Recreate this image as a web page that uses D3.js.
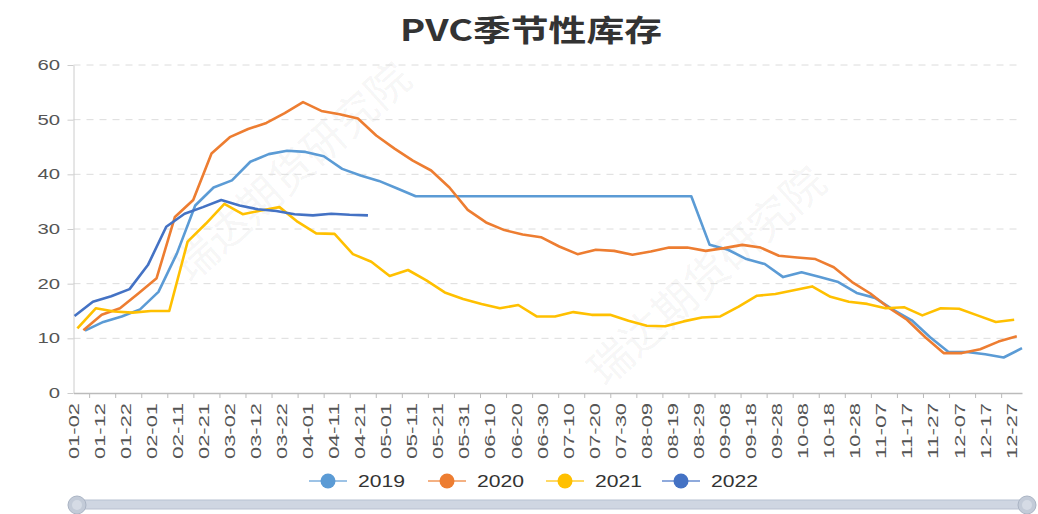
<!DOCTYPE html>
<html>
<head>
<meta charset="utf-8">
<script src="https://cdn.jsdelivr.net/npm/d3@7"></script>
<style>
  body { margin: 0; background: #fff; }
  svg { display: block; font-family: "Liberation Sans", Arial, sans-serif; }
</style>
</head>
<body>
<svg width="1038" height="514"></svg>
<script>
const svg = d3.select('svg');

// data (weekly readings; first and last reading day, counted from 01-02)
const years = ['2019', '2020', '2021', '2022'];
const colors = ['#5B9BD5', '#ED7D31', '#FFC000', '#4472C4'];
const firstDay = [4.4, 3.8, 1.5, 0.4];
const lastDay = [364, 362, 361, 113];

const v2019 = [11.4, 13.0, 14.0, 15.3, 18.5, 25.5, 34.3, 37.6, 38.9, 42.3, 43.7, 44.3, 44.1, 43.3,
  41.0, 39.8, 38.8, 37.4, 36.0, 36.0, 36.0, 36.0, 36.0, 36.0, 36.0, 36.0, 36.0, 36.0, 36.0, 36.0,
  36.0, 36.0, 36.0, 36.0, 27.1, 26.2, 24.5, 23.6, 21.2, 22.1, 21.2, 20.3, 18.3, 17.4, 15.2, 13.3,
  10.2, 7.5, 7.5, 7.1, 6.5, 8.2];
const v2020 = [11.5, 14.3, 15.5, 18.2, 21.0, 32.2, 35.3, 43.8, 46.8, 48.3, 49.4, 51.2, 53.2, 51.6,
  51.0, 50.2, 47.1, 44.7, 42.5, 40.7, 37.6, 33.5, 31.2, 29.8, 29.0, 28.5, 26.8, 25.4, 26.2, 26.0,
  25.3, 25.9, 26.6, 26.6, 26.0, 26.5, 27.1, 26.6, 25.1, 24.8, 24.5, 23.0, 20.3, 18.2, 15.6, 13.4,
  10.2, 7.3, 7.3, 8.0, 9.4, 10.4];
const v2021 = [11.8, 15.5, 14.9, 14.7, 15.0, 15.0, 27.7, 31.0, 34.6, 32.7, 33.4, 34.0, 31.3, 29.2,
  29.1, 25.4, 24.0, 21.4, 22.5, 20.6, 18.4, 17.2, 16.3, 15.5, 16.1, 14.0, 14.0, 14.8, 14.3, 14.3,
  13.2, 12.3, 12.2, 13.1, 13.8, 14.0, 15.8, 17.8, 18.1, 18.8, 19.5, 17.6, 16.7, 16.3, 15.5, 15.7,
  14.2, 15.5, 15.4, 14.2, 13.0, 13.4];
const v2022 = [14.1, 16.7, 17.7, 19.0, 23.4, 30.4, 32.8, 34.0, 35.3, 34.3, 33.6, 33.3, 32.7, 32.5,
  32.8, 32.6, 32.5];
const values = [v2019, v2020, v2021, v2022];

const yTicks = [0, 10, 20, 30, 40, 50, 60];

// daily axis (leap-year calendar, 01-02 .. 12-31)
const fmt = d3.timeFormat('%m-%d');
const days = d3.range(365).map(i => fmt(new Date(2020, 0, 2 + i)));
const labelIdx = d3.range(0, 365, 10);
const tickIdx = d3.range(6, 365, 10);

const plotLeft = 73.5, plotRight = 1022, plotTop = 65, plotBottom = 393;

const x = d3.scaleLinear().domain([0, days.length - 1]).range([plotLeft, plotRight]);
const y = d3.scaleLinear().domain([0, 60]).range([plotBottom, plotTop]);

// watermark
[[292, 172], [707, 276]].forEach(([cx, cy]) => {
  svg.append('text')
    .attr('transform', `translate(${cx},${cy}) rotate(-42)`)
    .attr('text-anchor', 'middle')
    .attr('dy', '0.35em')
    .attr('font-family', '"Noto Sans CJK SC", sans-serif')
    .attr('font-size', 43)
    .attr('fill', '#000')
    .attr('fill-opacity', 0.055)
    .text('瑞达期货研究院');
});

// title
svg.append('text')
  .attr('x', 531)
  .attr('y', 41)
  .attr('text-anchor', 'middle')
  .attr('font-family', '"Noto Sans CJK SC", sans-serif')
  .attr('font-weight', 'bold')
  .attr('font-size', 30)
  .attr('fill', '#333')
  .attr('textLength', 262)
  .attr('lengthAdjust', 'spacingAndGlyphs')
  .text('PVC季节性库存');

// grid
svg.append('g')
  .selectAll('line')
  .data(yTicks.slice(1))
  .join('line')
  .attr('x1', plotLeft)
  .attr('x2', plotRight)
  .attr('y1', d => y(d))
  .attr('y2', d => y(d))
  .attr('stroke', '#dcdcdc')
  .attr('stroke-dasharray', '7,6');

// y axis
const yAxis = svg.append('g')
  .attr('transform', `translate(${plotLeft},0)`)
  .call(d3.axisLeft(y).tickValues(yTicks).tickSize(6).tickSizeOuter(0).tickFormat(''));
yAxis.select('.domain').attr('stroke', '#ccc');
yAxis.selectAll('.tick line').attr('stroke', '#ccc');

svg.append('g')
  .selectAll('text')
  .data(yTicks)
  .join('text')
  .attr('x', 60)
  .attr('y', d => y(d))
  .attr('dy', '0.36em')
  .attr('text-anchor', 'end')
  .attr('font-size', 14)
  .attr('fill', '#555')
  .attr('textLength', d => String(d).length * 11.3)
  .attr('lengthAdjust', 'spacingAndGlyphs')
  .text(d => d);

// x axis
const xAxis = svg.append('g')
  .attr('transform', `translate(0,${plotBottom})`)
  .call(d3.axisBottom(x).tickValues(tickIdx).tickSize(5).tickSizeOuter(0).tickFormat(''));
xAxis.select('.domain').attr('stroke', '#bbb').attr('stroke-width', 1.5);
xAxis.selectAll('.tick line').attr('stroke', '#bbb');

svg.append('g')
  .selectAll('text')
  .data(labelIdx)
  .join('text')
  .attr('transform', d => `translate(${x(d)},403) rotate(-90)`)
  .attr('text-anchor', 'end')
  .attr('dy', '0.36em')
  .attr('font-size', 14)
  .attr('fill', '#555')
  .attr('textLength', 56)
  .attr('lengthAdjust', 'spacingAndGlyphs')
  .text(d => days[d]);

// lines
const line = d3.line()
  .x(d => x(d.day))
  .y(d => y(d.v));

years.forEach((yr, k) => {
  const vals = values[k];
  const dayOf = d3.scaleLinear().domain([0, vals.length - 1]).range([firstDay[k], lastDay[k]]);
  const pts = vals.map((v, i) => ({ day: dayOf(i), v }));
  svg.append('path')
    .datum(pts)
    .attr('d', line)
    .attr('fill', 'none')
    .attr('stroke', colors[k])
    .attr('stroke-width', 2.6)
    .attr('stroke-linejoin', 'round');
});

// legend
const legendX = [328, 447, 565, 681];
const legend = svg.append('g')
  .selectAll('g')
  .data(years)
  .join('g')
  .attr('transform', (d, i) => `translate(${legendX[i]},481)`);

legend.append('line')
  .attr('x1', -19)
  .attr('x2', 19)
  .attr('stroke', (d, i) => colors[i])
  .attr('stroke-opacity', 0.6)
  .attr('stroke-width', 2);

legend.append('circle')
  .attr('r', 7.5)
  .attr('fill', (d, i) => colors[i]);

legend.append('text')
  .attr('x', 30)
  .attr('dy', '0.36em')
  .attr('font-size', 16)
  .attr('fill', '#333')
  .attr('textLength', 47)
  .attr('lengthAdjust', 'spacingAndGlyphs')
  .text(d => d);

// data zoom slider
const dz = svg.append('g');
dz.append('rect')
  .attr('x', 77)
  .attr('y', 500)
  .attr('width', 950)
  .attr('height', 9)
  .attr('fill', '#cfd6e2')
  .attr('stroke', '#b8c1d1');
[77, 1027].forEach(cx => {
  dz.append('circle')
    .attr('cx', cx)
    .attr('cy', 505)
    .attr('r', 9)
    .attr('fill', '#c3cbd8')
    .attr('stroke', '#aab4c4');
  dz.append('circle')
    .attr('cx', cx)
    .attr('cy', 505)
    .attr('r', 5)
    .attr('fill', '#d5dbe5');
});
</script>
</body>
</html>
